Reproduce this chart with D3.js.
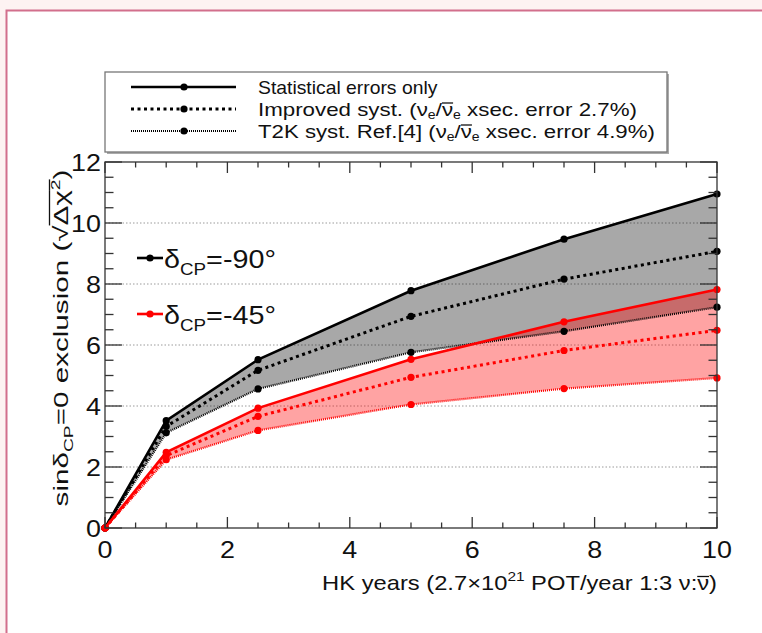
<!DOCTYPE html>
<html><head><meta charset="utf-8">
<script src="https://cdn.jsdelivr.net/npm/d3@7"></script>
<style>
html,body{margin:0;padding:0;background:#fdf3f2;}
svg{display:block;font-family:"Liberation Sans",Arial,Helvetica,sans-serif;}
</style></head>
<body>
<script>
// ---- data ----
const years = [0, 1, 2.5, 5, 7.5, 10];
const m90Stat = [0, 3.52, 5.52, 7.78, 9.47, 10.95];
const m90Impr = [0, 3.33, 5.17, 6.94, 8.16, 9.07];
const m90T2K  = [0, 3.12, 4.56, 5.76, 6.45, 7.24];
const m45Stat = [0, 2.48, 3.93, 5.53, 6.76, 7.82];
const m45Impr = [0, 2.37, 3.66, 4.94, 5.82, 6.48];
const m45T2K  = [0, 2.24, 3.20, 4.05, 4.57, 4.92];
const xTicks = [0, 2, 4, 6, 8, 10];
const yTicks = [0, 2, 4, 6, 8, 10, 12];
const legendLabels = ["Statistical errors only", "Improved syst.", "T2K syst. Ref.[4]"];

const W = 762, H = 633;
const svg = d3.select("body").append("svg").attr("width", W).attr("height", H);

// text stretched along its direction to a target length; tspans with data-oy get an overline
function stretched(x0, y0, rot, anchor, size, target, build) {
  const g = svg.append("g");
  const t = g.append("text").attr("x", 0).attr("y", 0).attr("text-anchor", anchor)
    .attr("font-size", size).attr("fill", "#111");
  build(t);
  const node = t.node();
  const w = node.getBBox().width;
  let idx = 0;
  node.childNodes.forEach(ts => {
    const n = ts.textContent.length;
    if (ts.getAttribute && ts.getAttribute("data-oy") !== null) {
      const oy = +ts.getAttribute("data-oy");
      const x1 = node.getStartPositionOfChar(idx).x;
      const x2 = node.getEndPositionOfChar(idx + n - 1).x;
      g.append("line").attr("x1", x1).attr("x2", x2).attr("y1", oy).attr("y2", oy)
        .attr("stroke", "#111").attr("stroke-width", 1.3);
    }
    idx += n;
  });
  g.attr("transform", `translate(${x0},${y0}) rotate(${rot}) scale(${target / w},1)`);
  return t;
}

// page frame
svg.append("rect").attr("x", 6.5).attr("y", 10.5).attr("width", W + 10).attr("height", H + 10)
  .attr("fill", "#ffffff").attr("stroke", "#d26f8c").attr("stroke-width", 2);

const L = 105, R = 717, T = 162, B = 528;
const x = d3.scaleLinear().domain([0, 10]).range([L, R]);
const y = d3.scaleLinear().domain([0, 12]).range([B, T]);

// grid
svg.selectAll("line.grid").data([2, 4, 6, 8, 10]).join("line")
  .attr("x1", L).attr("x2", R).attr("y1", d => y(d)).attr("y2", d => y(d))
  .attr("stroke", "#9a9a9a").attr("stroke-width", 1).attr("stroke-dasharray", "1.5,2");

// bands
const band = (hi, lo) => d3.area().x((d, i) => x(years[i])).y0((d, i) => y(lo[i])).y1((d, i) => y(hi[i]))(hi);
svg.append("path").attr("d", band(m90Stat, m90T2K)).attr("fill", "rgba(0,0,0,0.34)");
svg.append("path").attr("d", band(m45Stat, m45T2K)).attr("fill", "rgba(255,0,0,0.36)");

const line = d3.line().x((d, i) => x(years[i])).y(d => y(d));
const styles = [
  {w: 2.6, dash: null},
  {w: 3, dash: "3,3.5"},
  {w: 2.2, dash: "1,1"}
];
function series(arrs, col) {
  arrs.forEach((a, k) => {
    svg.append("path").attr("d", line(a)).attr("fill", "none").attr("stroke", col)
      .attr("stroke-width", styles[k].w).attr("stroke-dasharray", styles[k].dash);
    svg.selectAll(null).data(a).join("circle")
      .attr("cx", (d, i) => x(years[i])).attr("cy", d => y(d)).attr("r", 3.6).attr("fill", col);
  });
}
series([m90Stat, m90Impr, m90T2K], "#000");
series([m45Stat, m45Impr, m45T2K], "#ff0000");

// axes frame and ticks
const ax = svg.append("g").attr("stroke", "#333").attr("stroke-width", 1.3);
ax.append("rect").attr("x", L).attr("y", T).attr("width", R - L).attr("height", B - T).attr("fill", "none");
const yMinor = d3.range(0, 12.01, 0.5);
const xMinor = d3.range(0, 10.01, 0.5);
yMinor.forEach(v => {
  const len = (v % 2 === 0) ? 17 : 8.5;
  ax.append("line").attr("x1", L).attr("x2", L + len).attr("y1", y(v)).attr("y2", y(v));
  ax.append("line").attr("x1", R).attr("x2", R - len).attr("y1", y(v)).attr("y2", y(v));
});
xMinor.forEach(v => {
  const len = (v % 2 === 0) ? 11 : 5.5;
  ax.append("line").attr("x1", x(v)).attr("x2", x(v)).attr("y1", B).attr("y2", B - len);
  ax.append("line").attr("x1", x(v)).attr("x2", x(v)).attr("y1", T).attr("y2", T + len);
});

// tick labels
yTicks.forEach(v => {
  svg.append("text").attr("transform", `translate(${L - 4},${y(v) + 8.5}) scale(1.12,1)`)
    .attr("text-anchor", "end").attr("font-size", 24).attr("fill", "#111").text(v);
});
xTicks.forEach(v => {
  svg.append("text").attr("transform", `translate(${x(v)},${B + 30}) scale(1.12,1)`)
    .attr("text-anchor", "middle").attr("font-size", 24).attr("fill", "#111").text(v);
});

// x axis title
stretched(R, 590, 0, "end", 20, 395, t => {
  t.append("tspan").text("HK years (2.7×10");
  t.append("tspan").attr("font-size", 13).attr("dy", -9).text("21");
  t.append("tspan").attr("dy", 9).text(" POT/year 1:3 ν:");
  t.append("tspan").attr("data-oy", -13.5).text("ν");
  t.append("tspan").text(")");
});

// y axis title
stretched(68, 338, -90, "middle", 20, 337, t => {
  t.append("tspan").text("sinδ");
  t.append("tspan").attr("font-size", 13).attr("dy", 5).text("CP");
  t.append("tspan").attr("dy", -5).text("=0 exclusion (√");
  t.append("tspan").attr("data-oy", -18.5).text("Δχ");
  t.append("tspan").attr("font-size", 13).attr("dy", -8).attr("data-oy", -18.5).text("2");
  t.append("tspan").attr("dy", 8).text(")");
});

// inline legend for delta CP
const dl = [{lab: "-90°", col: "#000", yy: 258}, {lab: "-45°", col: "#ff0000", yy: 314}];
dl.forEach(d => {
  svg.append("line").attr("x1", 137).attr("x2", 163).attr("y1", d.yy).attr("y2", d.yy)
    .attr("stroke", d.col).attr("stroke-width", 2.6);
  svg.append("circle").attr("cx", 150).attr("cy", d.yy).attr("r", 3.6).attr("fill", d.col);
  stretched(164, d.yy + 10, 0, "start", 26, 112, t => {
    t.append("tspan").text("δ");
    t.append("tspan").attr("font-size", 17).attr("dy", 7).text("CP");
    t.append("tspan").attr("dy", -7).text("=" + d.lab);
  });
});

// top legend box
svg.append("rect").attr("x", 107).attr("y", 74).attr("width", 562).attr("height", 80).attr("fill", "#aaa");
svg.append("rect").attr("x", 105).attr("y", 72).attr("width", 562).attr("height", 80)
  .attr("fill", "#fff").attr("stroke", "#777").attr("stroke-width", 1.3);
const rowsY = [87, 109, 131];
const rowW = [180, 379, 397];
rowsY.forEach((yy, k) => {
  svg.append("line").attr("x1", 131).attr("x2", 236).attr("y1", yy).attr("y2", yy)
    .attr("stroke", "#000").attr("stroke-width", styles[k].w).attr("stroke-dasharray", styles[k].dash);
  svg.append("circle").attr("cx", 184).attr("cy", yy).attr("r", 3.6).attr("fill", "#000");
  stretched(258, yy + 7, 0, "start", 19, rowW[k], t => {
    t.append("tspan").text(legendLabels[k]);
    if (k > 0) {
      const pct = k === 1 ? "2.7%" : "4.9%";
      t.append("tspan").text(" (ν");
      t.append("tspan").attr("font-size", 12).attr("dy", 3).text("e");
      t.append("tspan").attr("dy", -3).text("/");
      t.append("tspan").attr("data-oy", -13).text("ν");
      t.append("tspan").attr("font-size", 12).attr("dy", 3).text("e");
      t.append("tspan").attr("dy", -3).text(" xsec. error " + pct + ")");
    }
  });
});
</script>
</body></html>
